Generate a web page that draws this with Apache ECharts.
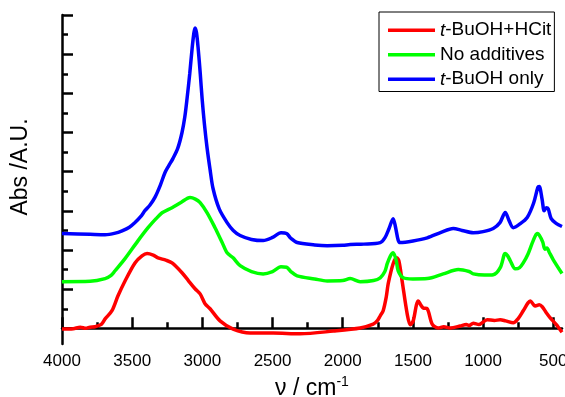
<!DOCTYPE html>
<html>
<head>
<meta charset="utf-8">
<script src="https://cdn.jsdelivr.net/npm/echarts@6/dist/echarts.min.js"></script>
<style>
  html, body { margin: 0; padding: 0; background: #fff; }
  #main { width: 565px; height: 397px; }
</style>
</head>
<body>
<div id="main"></div>
<script>
// series values as [wavenumber, absorbance (a.u.)]
var hcitData = [
  [4000, -0.02], [3920, -0.01], [3870, 0.03], [3830, 0.0], [3800, 0.03], [3765, 0.04], [3720, 0.1],
  [3693, 0.24], [3644, 0.45], [3601, 0.83], [3551, 1.21], [3480, 1.67], [3430, 1.85], [3394, 1.91],
  [3350, 1.87], [3316, 1.80], [3260, 1.74], [3216, 1.67], [3145, 1.42], [3100, 1.22], [3052, 1.01],
  [3016, 0.88], [2981, 0.63], [2945, 0.50], [2874, 0.19], [2781, -0.02], [2660, -0.12], [2496, -0.12],
  [2304, -0.14], [2068, -0.07], [1876, 0.01], [1783, 0.11], [1755, 0.19], [1733, 0.32], [1712, 0.45],
  [1690, 0.8], [1676, 1.14], [1641, 1.65], [1615, 1.80], [1600, 1.72], [1577, 1.21], [1541, 0.37],
  [1519, 0.09], [1498, 0.19], [1475, 0.6], [1462, 0.70], [1445, 0.6], [1427, 0.52], [1398, 0.50],
  [1363, 0.11], [1320, 0.01], [1280, 0.04], [1234, 0.01], [1163, 0.06], [1120, 0.1], [1100, 0.07],
  [1070, 0.13], [1030, 0.1], [971, 0.22], [920, 0.2], [878, 0.22], [840, 0.19], [785, 0.14],
  [750, 0.25], [714, 0.45], [680, 0.65], [664, 0.70], [640, 0.6], [628, 0.57], [600, 0.6],
  [579, 0.55], [550, 0.4], [522, 0.27], [480, 0.1], [438, -0.1]
];
var noneData = [
  [4000, 1.19], [3800, 1.2], [3693, 1.27], [3650, 1.35], [3622, 1.47], [3551, 1.78], [3458, 2.24],
  [3387, 2.57], [3330, 2.8], [3287, 2.95], [3216, 3.08], [3150, 3.22], [3088, 3.34], [3050, 3.3],
  [3016, 3.21], [2966, 2.95], [2910, 2.57], [2860, 2.2], [2824, 1.93], [2781, 1.80], [2731, 1.60],
  [2650, 1.45], [2567, 1.39], [2500, 1.45], [2440, 1.57], [2400, 1.56], [2370, 1.45], [2325, 1.34],
  [2200, 1.26], [2111, 1.21], [2000, 1.22], [1947, 1.27], [1876, 1.19], [1780, 1.22], [1733, 1.29],
  [1700, 1.45], [1683, 1.65], [1660, 1.85], [1641, 1.93], [1620, 1.75], [1605, 1.47], [1569, 1.29],
  [1500, 1.26], [1398, 1.27], [1284, 1.39], [1177, 1.50], [1100, 1.45], [1070, 1.39], [990, 1.36],
  [928, 1.37], [878, 1.55], [850, 1.88], [842, 1.91], [825, 1.85], [807, 1.73], [771, 1.52],
  [740, 1.55], [714, 1.67], [680, 1.9], [643, 2.24], [615, 2.42], [600, 2.38], [575, 2.2],
  [560, 2.02], [545, 2.05], [530, 1.95], [500, 1.75], [438, 1.4]
];
var buohData = [
  [4000, 2.42], [3800, 2.40], [3693, 2.39], [3620, 2.43], [3572, 2.49], [3520, 2.58], [3480, 2.70],
  [3440, 2.85], [3408, 3.01], [3373, 3.15], [3337, 3.35], [3300, 3.65], [3266, 3.98], [3240, 4.15],
  [3209, 4.34], [3175, 4.6], [3145, 5.00], [3125, 5.4], [3109, 5.87], [3090, 6.5], [3073, 7.15],
  [3060, 7.55], [3052, 7.67], [3042, 7.55], [3030, 7.15], [3015, 6.5], [3002, 5.87], [2985, 5.2],
  [2966, 4.59], [2945, 4.05], [2924, 3.57], [2880, 3.05], [2824, 2.70], [2780, 2.5], [2731, 2.37],
  [2650, 2.27], [2567, 2.24], [2500, 2.32], [2440, 2.44], [2400, 2.42], [2370, 2.3], [2325, 2.19],
  [2200, 2.13], [2111, 2.11], [2000, 2.12], [1947, 2.14], [1850, 2.15], [1733, 2.19], [1700, 2.31],
  [1670, 2.55], [1641, 2.80], [1625, 2.6], [1605, 2.25], [1591, 2.19], [1500, 2.23], [1398, 2.31],
  [1300, 2.45], [1213, 2.55], [1150, 2.5], [1070, 2.44], [1000, 2.47], [928, 2.55], [880, 2.7],
  [842, 2.96], [815, 2.75], [785, 2.57], [740, 2.66], [686, 2.83], [640, 3.2], [610, 3.6],
  [600, 3.62], [580, 3.3], [565, 3.0], [550, 3.08], [536, 3.05], [515, 2.8], [480, 2.68], [438, 2.6]
];

var seriesNames = ['t-BuOH+HCit', 'No additives', 't-BuOH only'];
var seriesColors = ['#ff0000', '#00ff00', '#0000ff'];

// tick positions
var xMajorTicks = [4000, 3500, 3000, 2500, 2000, 1500, 1000, 500];
var xMinorTicks = [3750, 3250, 2750, 2250, 1750, 1250, 750];
var yMajorTicks = [0, 1, 2, 3, 4, 5, 6, 7, 8];
var yMinorTicks = [0.5, 1.5, 2.5, 3.5, 4.5, 5.5, 6.5, 7.5];

var FONT = 'Arial, "Liberation Sans", sans-serif';

var chartDom = document.getElementById('main');
var myChart = echarts.init(chartDom);

var xBase = {
  type: 'value',
  inverse: true,
  min: 438,
  max: 4000,
  position: 'bottom',
  splitLine: { show: false }
};
var yBase = {
  type: 'value',
  min: -0.4,
  max: 8,
  position: 'left',
  splitLine: { show: false },
  axisLabel: { show: false }
};

var option = {
  animation: false,
  backgroundColor: '#fff',
  grid: { left: 62, right: 3, top: 15, bottom: 53, containLabel: false, outerBoundsMode: 'none' },
  legend: {
    orient: 'vertical',
    left: 379,
    top: 12,
    padding: [8, 3, 2, 9],
    icon: 'rect',
    itemWidth: 47,
    itemHeight: 3.5,
    itemGap: 4,
    borderColor: '#000',
    borderWidth: 1,
    data: seriesNames,
    formatter: function (name) {
      if (name.indexOf('t-') === 0) {
        return '{i|t}{n|' + name.slice(1) + '}';
      }
      return '{n|' + name + '}';
    },
    textStyle: {
      color: '#000',
      fontFamily: FONT,
      fontSize: 19,
      lineHeight: 20.5,
      rich: {
        i: { fontStyle: 'italic', fontSize: 19, fontFamily: FONT, color: '#000' },
        n: { fontSize: 19, fontFamily: FONT, color: '#000' }
      }
    }
  },
  xAxis: [
    Object.assign({}, xBase, {
      name: '{a|ν / cm}{s|-1}',
      nameLocation: 'middle',
      nameGap: 30,
      nameTextStyle: {
        rich: {
          a: { fontSize: 23, fontFamily: FONT, color: '#000' },
          s: { fontSize: 14, fontFamily: FONT, color: '#000', padding: [0, 0, 14, 0] }
        }
      },
      axisLine: { lineStyle: { color: '#000', width: 2.5 } },
      axisTick: { inside: true, length: 11, customValues: xMajorTicks, lineStyle: { color: '#000', width: 2.5 } },
      axisLabel: {
        customValues: xMajorTicks,
        hideOverlap: false,
        color: '#000',
        fontSize: 17,
        fontFamily: FONT,
        margin: 9,
        formatter: function (v) { return String(v); }
      }
    }),
    Object.assign({}, xBase, {
      axisLine: { show: false },
      axisTick: { inside: true, length: 6, customValues: xMinorTicks, lineStyle: { color: '#000', width: 2.5 } },
      axisLabel: { show: false }
    })
  ],
  yAxis: [
    Object.assign({}, yBase, {
      axisLine: { show: true, lineStyle: { color: '#000', width: 2.5 } },
      axisTick: { show: true, inside: true, length: 11, customValues: yMajorTicks, lineStyle: { color: '#000', width: 2.5 } }
    }),
    Object.assign({}, yBase, {
      axisLine: { show: false },
      axisTick: { show: true, inside: true, length: 6, customValues: yMinorTicks, lineStyle: { color: '#000', width: 2.5 } }
    })
  ],
  graphic: [
    {
      type: 'text',
      x: 21,
      y: 167,
      rotation: Math.PI / 2,
      style: {
        text: 'Abs /A.U.',
        font: '23px ' + FONT,
        fill: '#000',
        align: 'center',
        verticalAlign: 'middle'
      }
    }
  ],
  series: [hcitData, noneData, buohData].map(function (d, i) {
    return {
      name: seriesNames[i],
      type: 'line',
      data: d,
      symbol: 'none',
      smooth: 0.3,
      lineStyle: { color: seriesColors[i], width: 3.5 },
      itemStyle: { color: seriesColors[i] }
    };
  })
};

option && myChart.setOption(option);
</script>
</body>
</html>
